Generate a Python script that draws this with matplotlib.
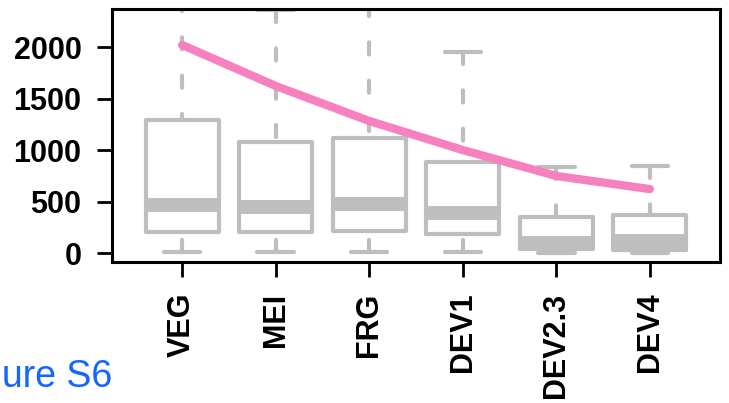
import matplotlib
matplotlib.use("Agg")
import matplotlib.pyplot as plt
from matplotlib.patches import Rectangle

plt.rcParams["font.family"] = ["Liberation Sans", "DejaVu Sans"]

# stages and box statistics
stages = ["VEG", "MEI", "FRG", "DEV1", "DEV2.3", "DEV4"]
whisker_low = [8, 8, 8, 8, 0, 0]
q1 = [204, 204, 214, 180, 39, 29]
median = [466, 451, 476, 384, 102, 117]
q3 = [1291, 1078, 1112, 884, 350, 369]
whisker_high = [2560, 2355, 2420, 1952, 835, 845]

# pink trend line
trend = [2020, 1622, 1282, 1000, 748, 621]

gray = "#BEBEBE"
pink = "#F781BF"

fig = plt.figure(figsize=(7.29, 4.03), dpi=100)
ax = fig.add_axes([112 / 729, 1 - 262 / 403, 608 / 729, 253 / 403])

pos = list(range(1, len(stages) + 1))
box_w = 0.78
cap_w = 0.39

for x, lo, a, m, b, hi in zip(pos, whisker_low, q1, median, q3, whisker_high):
    # whiskers drawn from the extreme towards the box, like R does
    for end, edge in ((hi, b), (lo, a)):
        ax.plot([x, x], [end, edge], color=gray, lw=3,
                linestyle=(0, (2.9, 6.3)), dash_capstyle="round", zorder=2)
        ax.plot([x - cap_w / 2, x + cap_w / 2], [end, end], color=gray, lw=3,
                solid_capstyle="round", zorder=2)
    ax.add_patch(Rectangle((x - box_w / 2, a), box_w, b - a, facecolor="white",
                           edgecolor=gray, lw=3, joinstyle="round", zorder=3))
    ax.plot([x - box_w / 2, x + box_w / 2], [m, m], color=gray, lw=10,
            solid_capstyle="butt", zorder=4)

ax.plot(pos, trend, color=pink, lw=6, solid_capstyle="round",
        solid_joinstyle="round", zorder=5)

ax.set_xlim(0.25, 6.75)
ax.set_ylim(-87, 2369)
ax.set_xticks(pos)
ax.set_xticklabels(stages, rotation=90, fontsize=22, fontweight="bold")
ax.set_yticks([0, 500, 1000, 1500, 2000])
ax.set_yticklabels(["0", "500", "1000", "1500", "2000"], fontsize=22,
                   fontweight="bold")
ax.tick_params(axis="both", direction="out", length=11, width=2, pad=11)
for s in ax.spines.values():
    s.set_linewidth(2.2)

# only the tail of the caption is visible in the source image
fig.text(2 / 729, 1 - 387 / 403, "ure S6", color="#1565FF", fontsize=27,
         ha="left", va="baseline")

fig.savefig("out.png", dpi=100)
